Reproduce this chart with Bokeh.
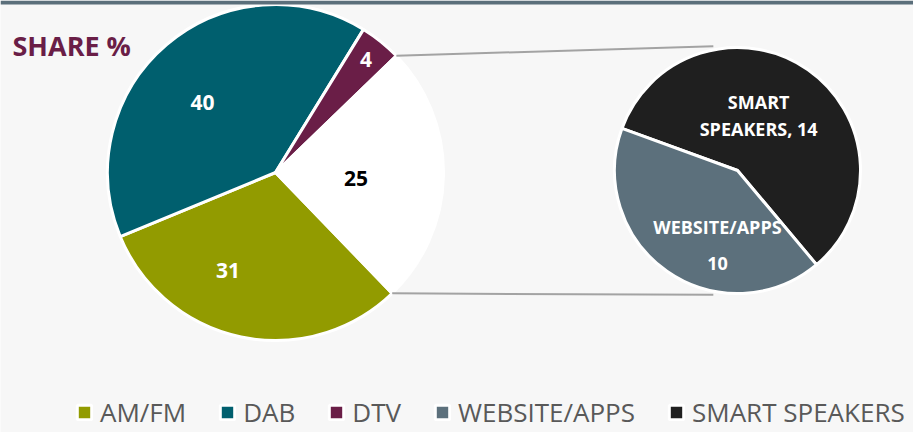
import math
from bokeh.plotting import figure
from bokeh.models import Range1d, ColumnDataSource, Legend, LegendItem, BoxAnnotation
from bokeh.core.properties import value
from bokeh.embed import file_html
from bokeh.resources import INLINE

# ---- data ----
main_cats = ["AM/FM", "DAB", "DTV", "OTHER"]
main_vals = [31, 40, 4, 25]
main_labels = ["31", "40", "4", "25"]
sub_cats = ["SMART SPEAKERS", "WEBSITE/APPS"]
sub_vals = [14, 10]
sub_labels = ["SMART\nSPEAKERS, 14", "WEBSITE/APPS\n10"]
legend_order = ["AM/FM", "DAB", "DTV", "WEBSITE/APPS", "SMART SPEAKERS"]
title_text = "SHARE %"

# ---- styles ----
main_colors = ["#929B00", "#005F6E", "#6A1E47", "#FFFFFF"]
main_label_colors = ["#FFFFFF", "#FFFFFF", "#FFFFFF", "#000000"]
sub_colors = ["#1F1F1F", "#5C707C"]
main_label_r = [0.65, 0.6, 0.86, 0.48]
main_label_nudge = [-14, 6, 0, -3]
sub_label_r = [0.48, 0.63]
sub_label_nudge = [14, 20]
sub_line_height = [1.1, 1.5]

W, H = 913, 432
BG = "#F7F7F7"
C1 = (275, 260); R1 = 168; START1 = -46
C2 = (737, 262); R2 = 123; START2 = 160
FONT = value("Open Sans")


def wedge_angles(vals, start):
    tot = float(sum(vals))
    s, e, m = [], [], []
    cum = 0.0
    for v in vals:
        a0 = start - cum / tot * 360.0
        cum += v
        a1 = start - cum / tot * 360.0
        s.append(math.radians(a0)); e.append(math.radians(a1)); m.append((a0 + a1) / 2.0)
    return s, e, m


p = figure(width=W, height=H, x_range=Range1d(0, W), y_range=Range1d(0, H),
           output_backend="svg", toolbar_location=None, min_border=0)
p.xaxis.visible = False
p.yaxis.visible = False
p.grid.visible = False
p.outline_line_color = None
p.background_fill_color = BG
p.border_fill_color = BG

# top bar
p.add_layout(BoxAnnotation(bottom=H - 4, top=H, fill_color="#5B6F7B", fill_alpha=1, line_color=None))

# main pie
s1, e1, m1 = wedge_angles(main_vals, START1)
src1 = ColumnDataSource(dict(cat=main_cats, val=main_vals, start=s1, end=e1, color=main_colors))
r_main = p.wedge(x=C1[0], y=C1[1], radius=R1, start_angle="start", end_angle="end",
                 direction="clock", fill_color="color", line_color="white", line_width=3, source=src1)

# sub pie
s2, e2, m2 = wedge_angles(sub_vals, START2)
src2 = ColumnDataSource(dict(cat=sub_cats, val=sub_vals, start=s2, end=e2, color=sub_colors))
r_sub = p.wedge(x=C2[0], y=C2[1], radius=R2, start_angle="start", end_angle="end",
                direction="clock", fill_color="color", line_color="white", line_width=3, source=src2)

# connector lines: from the "other" slice edges to the secondary pie
other_start = math.radians(START1 - (sum(main_vals) - main_vals[-1]) / sum(main_vals) * 360.0)
other_end = math.radians(START1)
x0s = [C1[0] + R1 * math.cos(other_start), C1[0] + R1 * math.cos(other_end)]
y0s = [C1[1] + R1 * math.sin(other_start), C1[1] + R1 * math.sin(other_end)]
x1s = [C2[0] + 1.03 * R2 * math.cos(math.radians(101)), C2[0] + 1.03 * R2 * math.cos(math.radians(-101))]
y1s = [C2[1] + 1.03 * R2 * math.sin(math.radians(101)), C2[1] + 1.03 * R2 * math.sin(math.radians(-101))]
p.segment(x0=x0s, y0=y0s, x1=x1s, y1=y1s, line_color="#A3A3A3", line_width=2)

# main labels
lx, ly = [], []
for i, mid in enumerate(m1):
    a = math.radians(mid + main_label_nudge[i])
    lx.append(C1[0] + main_label_r[i] * R1 * math.cos(a))
    ly.append(C1[1] + main_label_r[i] * R1 * math.sin(a))
p.text(x=lx, y=ly, text=main_labels, text_color=main_label_colors, text_font=FONT,
       text_font_style="bold", text_font_size="21px", text_align="center", text_baseline="middle")

# sub labels
for i, mid in enumerate(m2):
    a = math.radians(mid + sub_label_nudge[i])
    p.text(x=[C2[0] + sub_label_r[i] * R2 * math.cos(a)], y=[C2[1] + sub_label_r[i] * R2 * math.sin(a)],
           text=[sub_labels[i]], text_color="#FFFFFF", text_font=FONT, text_font_style="bold",
           text_font_size="18px", text_align="center", text_baseline="middle",
           text_line_height=sub_line_height[i])

# title
p.text(x=[12], y=[H - 45], text=[title_text], text_color="#6A1E47", text_font=FONT,
       text_font_style="bold", text_font_size="27px", text_align="left", text_baseline="middle")

# legend
items = []
for name in legend_order:
    if name in main_cats:
        items.append(LegendItem(label=name, renderers=[r_main], index=main_cats.index(name)))
    else:
        items.append(LegendItem(label=name, renderers=[r_sub], index=sub_cats.index(name)))
legend = Legend(items=items, orientation="horizontal", location=(75, 2),
                glyph_width=18, glyph_height=18, label_standoff=7, spacing=32,
                padding=0, margin=0, border_line_alpha=0, background_fill_alpha=0,
                label_text_font="Open Sans", label_text_font_size="26px",
                label_text_color="#595959", label_height=13)
p.add_layout(legend)

open("out.html", "w").write(file_html(p, INLINE))
